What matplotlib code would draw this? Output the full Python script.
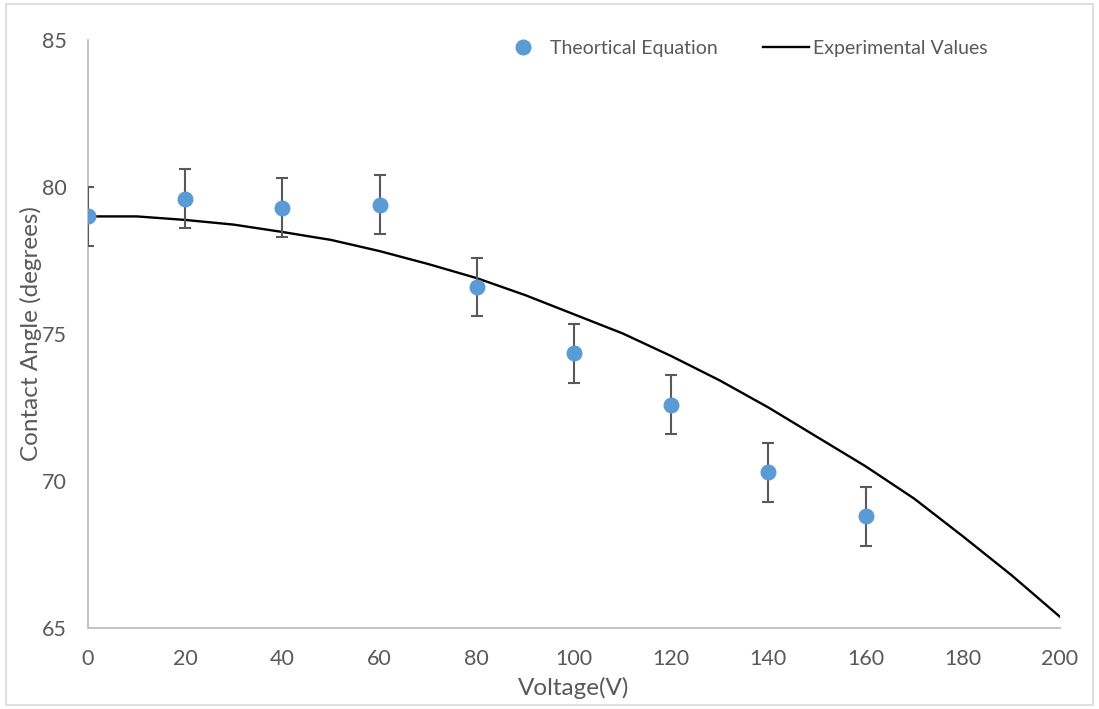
import matplotlib
matplotlib.use("Agg")
import matplotlib.pyplot as plt
from matplotlib.patches import Rectangle

# Data
volt_pts = [0, 20, 40, 60, 80, 100, 120, 140, 160]
angle_pts = [79.0, 79.6, 79.3, 79.4, 76.6, 74.35, 72.6, 70.3, 68.8]
angle_err = [1, 1, 1, 1, 1, 1, 1, 1, 1]

volt_curve = [0, 10, 20, 30, 40, 50, 60, 70, 80, 90, 100, 110, 120, 130, 140,
              150, 160, 170, 180, 190, 200]
angle_curve = [79.0, 79.0, 78.88, 78.72, 78.47, 78.2, 77.82, 77.38, 76.9, 76.32,
               75.67, 75.02, 74.25, 73.42, 72.5, 71.5, 70.5, 69.4, 68.12, 66.8, 65.38]

x_ticks = [0, 20, 40, 60, 80, 100, 120, 140, 160, 180, 200]
y_ticks = [65, 70, 75, 80, 85]

plt.rcParams['font.family'] = ['Lato', 'DejaVu Sans']
gray = '#595959'

fig = plt.figure(figsize=(10.99, 7.09), dpi=100)
ax = fig.add_axes([88/1099, 1-628/709, (1060-88)/1099, (628-40)/709])

ax.plot(volt_curve, angle_curve, color='black', lw=1.7, label='Experimental Values', zorder=2)
ax.errorbar(volt_pts, angle_pts, yerr=angle_err, fmt='none', ecolor=gray,
            elinewidth=1.5, capsize=4.3, capthick=1.5, zorder=3)
ax.plot(volt_pts, angle_pts, 'o', color='#5B9BD5', markersize=10.5, ls='none',
        label='Theortical Equation', zorder=4)

ax.set_xlim(0, 200)
ax.set_ylim(65, 85)
ax.set_xticks(x_ticks)
ax.set_yticks(y_ticks)
ax.tick_params(length=0, labelsize=15.5, colors=gray)
ax.tick_params(axis='x', pad=15)
ax.tick_params(axis='y', pad=15)
for s in ['top', 'right']:
    ax.spines[s].set_visible(False)
for s in ['left', 'bottom']:
    ax.spines[s].set_color('#bfbfbf')
    ax.spines[s].set_linewidth(1.3)

ax.set_xlabel('Voltage(V)', fontsize=17.5, color=gray)
ax.set_ylabel('Contact Angle (degrees)', fontsize=17.5, color=gray)
ax.xaxis.set_label_coords(0.5, -(677-628)/588)
ax.yaxis.set_label_coords(-(88-42)/972, 0.5)

h, l = ax.get_legend_handles_labels()
leg = ax.legend([h[1], h[0]], [l[1], l[0]], ncol=2, frameon=False, loc='upper right',
                bbox_to_anchor=((988-88)/972, 1.0), fontsize=14, handlelength=2.4,
                columnspacing=2.3, handletextpad=0.2, borderaxespad=0, borderpad=0)
for t in leg.get_texts():
    t.set_color(gray)

fig.patches.append(Rectangle((6/1099, 4/709), 1087/1099, 701/709, transform=fig.transFigure,
                             fill=False, edgecolor='#d9d9d9', lw=1.2))

fig.savefig('out.png', dpi=100)
